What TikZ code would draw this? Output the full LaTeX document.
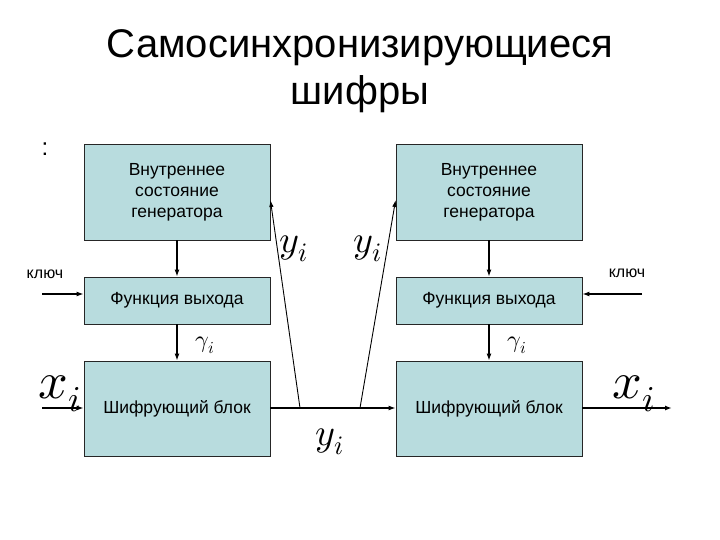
\documentclass[tikz,border=0pt]{standalone}
\usepackage{fontspec}
\usepackage{unicode-math}
\setmainfont{Liberation Sans}
\usetikzlibrary{arrows.meta}
\definecolor{boxfill}{RGB}{184,220,222}
\begin{document}
\begin{tikzpicture}[x=1pt,y=-1pt,
  blk/.style={draw=black!85, fill=boxfill, line width=0.8pt, inner sep=0pt, align=center,
    font=\fontsize{17.5}{21}\selectfont},
  arr/.style={-{Latex[length=7pt,width=5pt]}, line width=1.4pt},
  tarr/.style={-{Latex[length=7pt,width=4.5pt]}, line width=0.9pt},
  lbl/.style={inner sep=0pt, font=\fontsize{16}{18}\selectfont},
  ttl/.style={inner sep=0pt, align=center, font=\fontsize{40}{47}\selectfont},
  mth/.style={inner sep=0pt}]
\useasboundingbox (0,0) rectangle (720,540);
\node[ttl] (title) at (360,71) {Самосинхронизирующиеся\\шифры};
\node[inner sep=0pt, font=\fontsize{24}{24}\selectfont] (colon) at (45,149) {:};

\node[blk, minimum width=186pt, minimum height=96pt] (g1) at (177,192) {Внутреннее\\состояние\\генератора};
\node[blk, minimum width=186pt, minimum height=96pt] (g2) at (489,192) {Внутреннее\\состояние\\генератора};
\node[blk, minimum width=186pt, minimum height=47pt] (f1) at (177,300.5) {Функция выхода};
\node[blk, minimum width=186pt, minimum height=47pt] (f2) at (489,300.5) {Функция выхода};
\node[blk, minimum width=186pt, minimum height=95pt] (c1) at (177,408.5) {Шифрующий блок};
\node[blk, minimum width=186pt, minimum height=95pt] (c2) at (489,408.5) {Шифрующий блок};

\draw[arr] (g1.south) -- (f1.north);
\draw[arr] (g2.south) -- (f2.north);
\draw[arr] (f1.south) -- (c1.north);
\draw[arr] (f2.south) -- (c2.north);

\node[mth] (gam1) at (205,345) {\fontsize{24}{24}\selectfont$\gamma_i$};
\node[mth] (gam2) at (517,345) {\fontsize{24}{24}\selectfont$\gamma_i$};

\node[lbl] (key1) at (45,274) {ключ};
\node[lbl] (key2) at (627,273) {ключ};
\coordinate (k1) at (42,294);
\coordinate (k2) at (642,294);
\draw[arr] (k1) -- (k1 -| f1.west);
\draw[arr] (k2) -- (k2 -| f2.east);

\coordinate (xin) at (42,408);
\coordinate (xout) at (672,408);
\draw[arr] (xin) -- (xin -| c1.west);
\draw[arr] (c2.east |- xout) -- (xout);
\draw[arr] (c1.east |- xin) -- (c2.west |- xin);
\node[mth] (x1) at (60,394) {\fontsize{52}{52}\selectfont$x_i$};
\node[mth] (x2) at (634,394) {\fontsize{52}{52}\selectfont$x_i$};

\coordinate (b1) at (300,408);
\coordinate (b2) at (360,408);
\coordinate (t1) at ([yshift=-8pt]g1.east);
\coordinate (t2) at ([yshift=-8pt]g2.west);
\draw[tarr] (b1) -- (t1);
\draw[tarr] (b2) -- (t2);

\node[mth] (y1) at (294,249) {\fontsize{38}{38}\selectfont$y_i$};
\node[mth] (y2) at (368,249) {\fontsize{38}{38}\selectfont$y_i$};
\node[mth] (y3) at (330,442) {\fontsize{38}{38}\selectfont$y_i$};
\end{tikzpicture}
\end{document}
